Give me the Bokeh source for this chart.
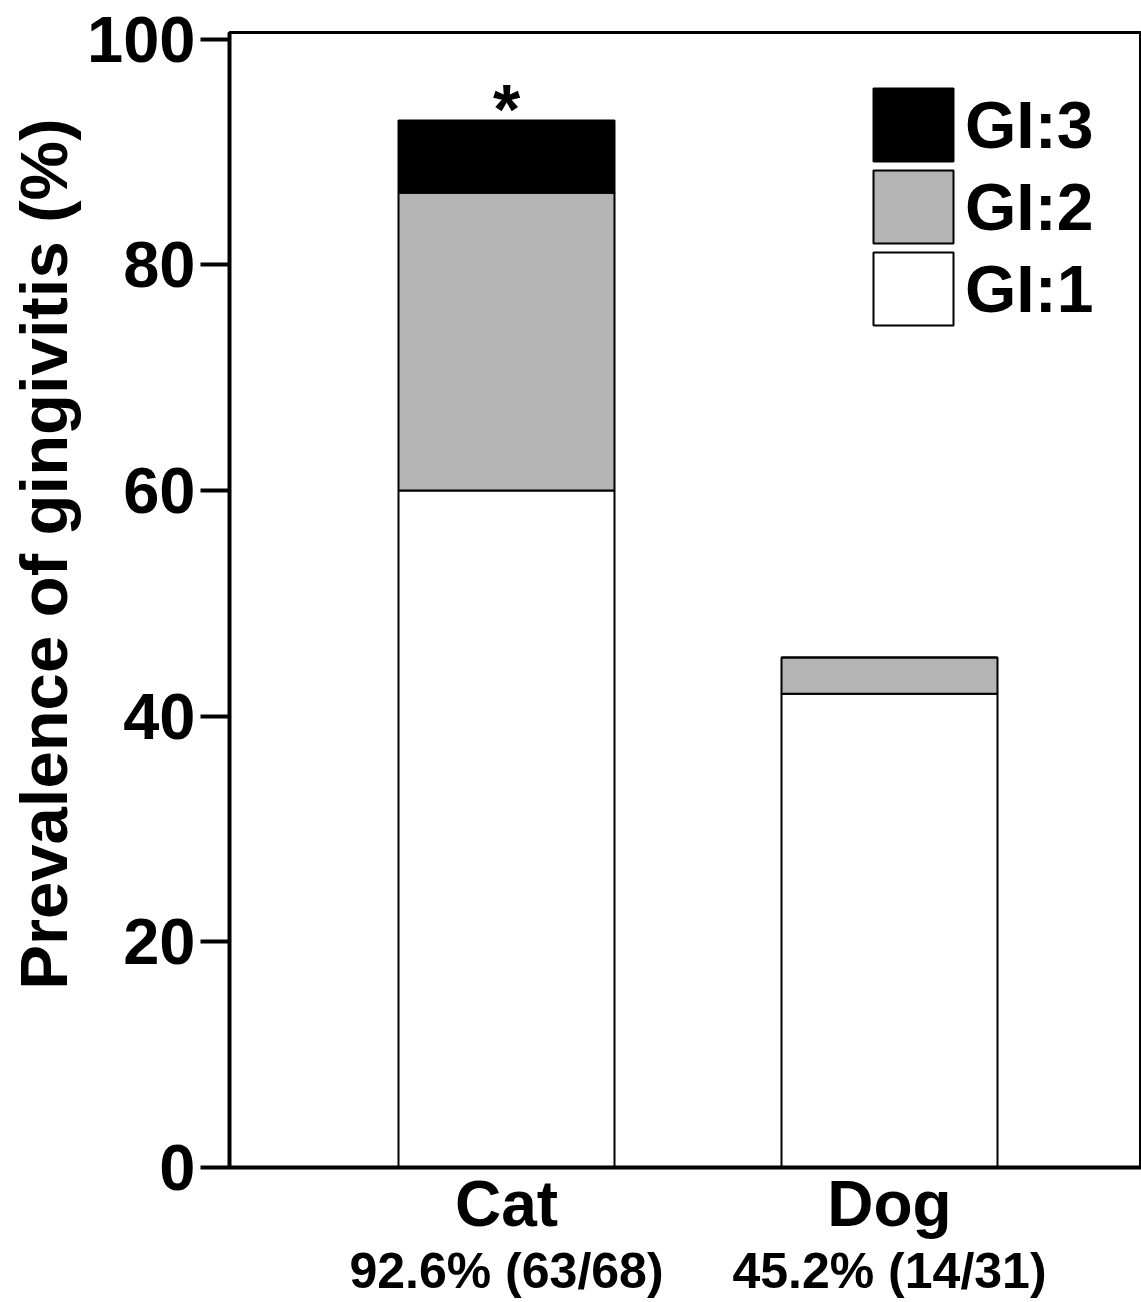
from bokeh.plotting import figure
from bokeh.models import (Range1d, FixedTicker, LinearAxis, Legend, LegendItem,
                          ColumnDataSource, Title)
from bokeh.core.properties import value
from bokeh.embed import file_html
from bokeh.resources import INLINE

# ---- data ----
animals = ["Cat", "Dog"]
positions = [1, 2]
summary = ["92.6% (63/68)", "45.2% (14/31)"]
gi1 = [60.0, 42.0]
gi2 = [26.4, 3.2]
gi3 = [6.4, 0.0]
significance = ["*", ""]
legend_labels = ["GI:3", "GI:2", "GI:1"]
y_ticks = [0, 20, 40, 60, 80, 100]

FONT = "Liberation Sans"

b1 = [0.0, 0.0]
t1 = [a for a in gi1]
t2 = [a + b for a, b in zip(gi1, gi2)]
t3 = [a + b + c for a, b, c in zip(gi1, gi2, gi3)]

src = ColumnDataSource(dict(x=positions, b1=b1, t1=t1, t2=t2, t3=t3,
                            star=significance))

p = figure(width=1141, height=1302, output_backend="svg", toolbar_location=None,
           x_range=Range1d(1 - 277 / 383, 1 - 277 / 383 + 912 / 383),
           y_range=Range1d(0, 100.6),
           min_border_left=229, min_border_top=32, min_border_right=0,
           min_border_bottom=135, x_axis_type=None, y_axis_type=None)
p.grid.visible = False
p.outline_line_color = "black"
p.outline_line_width = 3
p.background_fill_color = "white"
p.border_fill_color = "white"

W = 216 / 383
r1 = p.vbar(x="x", bottom="b1", top="t1", width=W, source=src,
            fill_color="white", line_color="black", line_width=2)
r2 = p.vbar(x="x", bottom="t1", top="t2", width=W, source=src,
            fill_color="#b4b4b4", line_color="black", line_width=2)
r3 = p.vbar(x="x", bottom="t2", top="t3", width=W, source=src,
            fill_color="black", line_color="black", line_width=2)

p.text(x="x", y="t3", text="star", source=src, text_font=value(FONT),
       text_font_style="bold", text_font_size="70px", text_align="center",
       text_baseline="alphabetic", y_offset=-11, text_color="black")

# y axis
yax = LinearAxis(ticker=FixedTicker(ticks=y_ticks))
yax.axis_line_width = 4
yax.major_tick_line_width = 4
yax.major_tick_out = 29
yax.major_tick_in = 0
yax.minor_tick_line_color = None
yax.major_label_text_font = FONT
yax.major_label_text_font_style = "bold"
yax.major_label_text_font_size = "65px"
yax.major_label_text_color = "black"
yax.major_label_standoff = 5
p.add_layout(yax, "left")

p.add_layout(Title(text="Prevalence of gingivitis (%)", align="right",
                   offset=86, text_font=FONT, text_font_style="bold",
                   text_font_size="67px", text_color="black", standoff=7), "left")

# x axis: categories
xax = LinearAxis(ticker=FixedTicker(ticks=positions))
xax.major_label_overrides = {k: v for k, v in zip(positions, animals)}
xax.axis_line_width = 4
xax.major_tick_line_color = None
xax.major_tick_out = 0
xax.major_tick_in = 0
xax.minor_tick_line_color = None
xax.major_label_text_font = FONT
xax.major_label_text_font_style = "bold"
xax.major_label_text_font_size = "64px"
xax.major_label_text_color = "black"
xax.major_label_standoff = 0
p.add_layout(xax, "below")

xax2 = LinearAxis(ticker=FixedTicker(ticks=positions))
xax2.major_label_overrides = {k: v for k, v in zip(positions, summary)}
xax2.axis_line_color = None
xax2.major_tick_line_color = None
xax2.major_tick_out = 0
xax2.major_tick_in = 0
xax2.minor_tick_line_color = None
xax2.major_label_text_font = FONT
xax2.major_label_text_font_style = "bold"
xax2.major_label_text_font_size = "50px"
xax2.major_label_text_color = "black"
xax2.major_label_standoff = 0
p.add_layout(xax2, "below")

# legend: one entry per block so that the gaps between swatches match
renderers = [r3, r2, r1]
offsets_from_bottom = [997, 915, 833]
for lab, rend, yb in zip(legend_labels, renderers, offsets_from_bottom):
    lg = Legend(items=[LegendItem(label=lab, renderers=[rend])],
                location=(634, yb), padding=0, margin=0, spacing=0,
                glyph_width=100, glyph_height=91, label_height=91,
                label_standoff=2, border_line_color=None,
                background_fill_alpha=0,
                label_text_font=FONT, label_text_font_style="bold",
                label_text_font_size="66px", label_text_color="black")
    p.add_layout(lg)

open("out.html", "w").write(file_html(p, INLINE))
